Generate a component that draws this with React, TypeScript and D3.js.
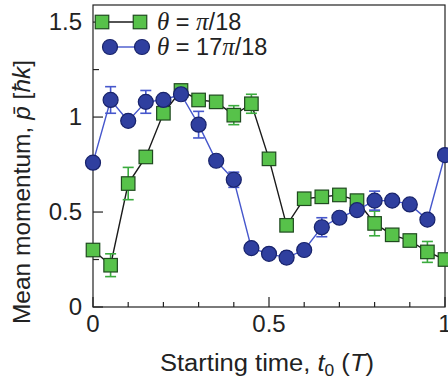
import React from "react";
import * as d3 from "d3";

const t0 = [0, 0.05, 0.1, 0.15, 0.2, 0.25, 0.3, 0.35, 0.4, 0.45, 0.5, 0.55, 0.6, 0.65, 0.7, 0.75, 0.8, 0.85, 0.9, 0.95, 1.0];
const greenVals = [0.30, 0.22, 0.65, 0.79, 1.02, 1.14, 1.09, 1.08, 1.01, 1.07, 0.78, 0.43, 0.57, 0.58, 0.59, 0.56, 0.44, 0.38, 0.35, 0.29, 0.25];
const greenErr = [0.02, 0.06, 0.085, 0.02, 0.02, 0.03, 0.02, 0.02, 0.05, 0.05, 0.02, 0.02, 0.02, 0.02, 0.02, 0.02, 0.065, 0.02, 0.02, 0.055, 0.02];
const blueVals = [0.76, 1.09, 0.98, 1.08, 1.09, 1.12, 0.96, 0.77, 0.67, 0.31, 0.28, 0.26, 0.30, 0.42, 0.47, 0.51, 0.56, 0.56, 0.54, 0.46, 0.80];
const blueErr = [0, 0.07, 0, 0.06, 0, 0.03, 0.07, 0, 0.04, 0, 0, 0.03, 0, 0.05, 0, 0, 0.05, 0, 0, 0, 0];
const xTickLabels = [0, 0.5, 1];
const yTickLabels = [0, 0.5, 1, 1.5];

const W = 448, H = 384;
const L = 93, R = 445, T = 5, B = 307;
const FONT = "'Liberation Sans', Arial, Helvetica, sans-serif";
const SERIF = "'Liberation Serif', 'Times New Roman', serif";

const GREEN_FILL = "#57c24a";
const GREEN_STROKE = "#1f4a1f";
const GREEN_ERR = "#3bab3e";
const BLUE_FILL = "#2f3f9f";
const BLUE_STROKE = "#18236b";
const BLUE_LINE = "#4657cc";

export default function App() {
  const x = d3.scaleLinear().domain([0, 1]).range([L, R]);
  const y = d3.scaleLinear().domain([0, 1.59]).range([B, T]);
  const line = d3.line<number>().x((_, i) => x(t0[i])).y((d) => y(d));
  const xMinor = d3.range(0, 11).map((i) => i / 10);
  const yMinor = d3.range(0, 7).map((i) => i / 4);
  const sq = 13.5;
  const r = 7.5;

  const errBar = (cx: number, v: number, e: number, color: string, key: string) => (
    <g key={key} stroke={color} strokeWidth={1.6}>
      <line x1={cx} x2={cx} y1={y(v - e)} y2={y(v + e)} />
      <line x1={cx - 5.5} x2={cx + 5.5} y1={y(v - e)} y2={y(v - e)} />
      <line x1={cx - 5.5} x2={cx + 5.5} y1={y(v + e)} y2={y(v + e)} />
    </g>
  );

  return (
    <svg width={W} height={H} style={{ position: "absolute", left: 0, top: 0, background: "#fff" }} fontFamily={FONT}>
      {/* frame */}
      <rect x={L} y={T} width={R - L} height={B - T} fill="none" stroke="#222" strokeWidth={1.2} />
      {/* x ticks */}
      {xMinor.map((v, i) => (
        <line key={"xt" + i} x1={x(v)} x2={x(v)} y1={B} y2={B - (i % 5 === 0 ? 10 : 5)} stroke="#222" strokeWidth={1.2} />
      ))}
      {/* y ticks */}
      {yMinor.map((v, i) => (
        <line key={"yt" + i} x1={L} x2={L + (i % 2 === 0 ? 10 : 6)} y1={y(v)} y2={y(v)} stroke="#222" strokeWidth={1.2} />
      ))}
      {xTickLabels.map((v) => (
        <text key={"xl" + v} x={x(v)} y={B + 25} textAnchor="middle" fontSize={24} fill="#222">{String(v)}</text>
      ))}
      {yTickLabels.map((v) => (
        <text key={"yl" + v} x={L - 11} y={y(v) + 8} textAnchor="end" fontSize={24} fill="#222">{String(v)}</text>
      ))}
      {/* axis labels */}
      <text x={160} y={371} fontSize={23.5} fill="#222" textLength={214} lengthAdjust="spacingAndGlyphs">
        Starting time, <tspan fontStyle="italic">t</tspan><tspan fontSize={16} dy={5}>0</tspan><tspan dy={-5}> (</tspan><tspan fontStyle="italic">T</tspan>)
      </text>
      <text transform={`translate(30,192) rotate(-90)`} textAnchor="middle" fontSize={24.5} fill="#222">
        Mean momentum, <tspan fontStyle="italic">p̄</tspan> [<tspan fontStyle="italic">ħk</tspan>]
      </text>

      {/* green series */}
      <path d={line(greenVals) || ""} fill="none" stroke="#1a1a1a" strokeWidth={1.4} />
      {greenVals.map((v, i) => (greenErr[i] > 0 ? errBar(x(t0[i]), v, greenErr[i], GREEN_ERR, "ge" + i) : null))}
      {greenVals.map((v, i) => (
        <rect key={"gm" + i} x={x(t0[i]) - sq / 2} y={y(v) - sq / 2} width={sq} height={sq} fill={GREEN_FILL} stroke={GREEN_STROKE} strokeWidth={1.2} />
      ))}

      {/* blue series */}
      <path d={line(blueVals) || ""} fill="none" stroke={BLUE_LINE} strokeWidth={1.4} />
      {blueVals.map((v, i) => (blueErr[i] > 0 ? errBar(x(t0[i]), v, blueErr[i], BLUE_LINE, "be" + i) : null))}
      {blueVals.map((v, i) => (
        <circle key={"bm" + i} cx={x(t0[i])} cy={y(v)} r={r} fill={BLUE_FILL} stroke={BLUE_STROKE} strokeWidth={1.2} />
      ))}

      {/* legend */}
      <line x1={102} x2={140} y1={22} y2={22} stroke="#1a1a1a" strokeWidth={1.4} />
      <rect x={102 - sq / 2} y={22 - sq / 2} width={sq} height={sq} fill={GREEN_FILL} stroke={GREEN_STROKE} strokeWidth={1.2} />
      <rect x={140 - sq / 2} y={22 - sq / 2} width={sq} height={sq} fill={GREEN_FILL} stroke={GREEN_STROKE} strokeWidth={1.2} />
      <text x={157} y={30} fontSize={23.5} fill="#222">
        <tspan fontStyle="italic" fontFamily={SERIF} fontSize={25}>θ</tspan> = <tspan fontStyle="italic" fontFamily={SERIF} fontSize={25}>π</tspan>/18
      </text>
      <line x1={110} x2={142} y1={47} y2={47} stroke={BLUE_LINE} strokeWidth={1.4} />
      <circle cx={110} cy={47} r={r} fill={BLUE_FILL} stroke={BLUE_STROKE} strokeWidth={1.2} />
      <circle cx={142} cy={47} r={r} fill={BLUE_FILL} stroke={BLUE_STROKE} strokeWidth={1.2} />
      <text x={157} y={55} fontSize={23.5} fill="#222">
        <tspan fontStyle="italic" fontFamily={SERIF} fontSize={25}>θ</tspan> = 17<tspan fontStyle="italic" fontFamily={SERIF} fontSize={25}>π</tspan>/18
      </text>
    </svg>
  );
}
